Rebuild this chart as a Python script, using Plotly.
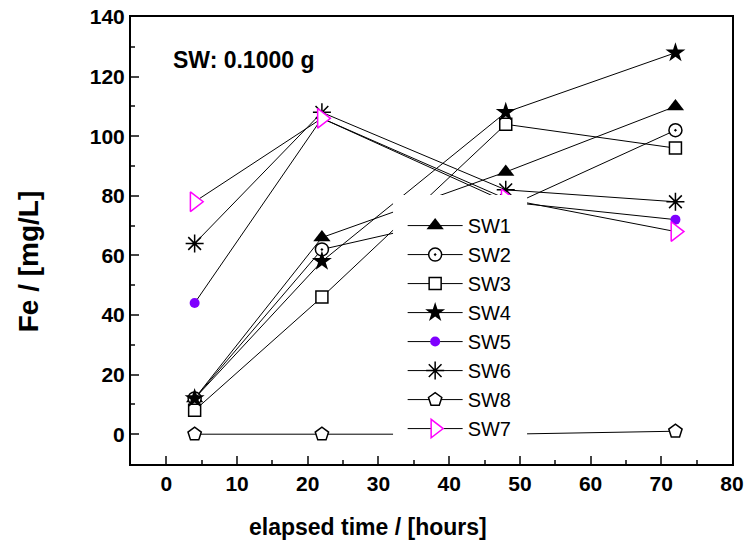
import plotly.graph_objects as go

hours = [4, 22, 48, 72]
sw1 = [12, 66, 88, 110]
sw2 = [12, 62, 76, 102]
sw3 = [8, 46, 104, 96]
sw4 = [12, 58, 108, 128]
sw5 = [44, 106, 78, 72]
sw6 = [64, 108, 82, 78]
sw8 = [0, 0, 0, 1]
sw7 = [78, 106, 79, 68]

# name, values, symbol, fill, size, outline
series = [
    ("SW1", sw1, "triangle-up", "black", 15, "black"),
    ("SW2", sw2, "circle-dot", "white", 13, "black"),
    ("SW3", sw3, "square", "white", 12, "black"),
    ("SW4", sw4, "star", "black", 15, "black"),
    ("SW5", sw5, "circle", "#7f00ff", 10, "#7f00ff"),
    ("SW6", sw6, "asterisk-open", "black", 15, "black"),
    ("SW8", sw8, "pentagon", "white", 14, "black"),
    ("SW7", sw7, "triangle-right", "white", 17, "#ff00ff"),
]

fig = go.Figure()
for name, ys, sym, col, size, lcol in series:
    outlined = col == "white" or "open" in sym
    fig.add_trace(go.Scatter(
        x=hours, y=ys, name=name, mode="lines+markers",
        line=dict(color="black", width=1),
        marker=dict(symbol=sym, size=size, color=col,
                    line=dict(color=lcol, width=1.5 if outlined else 0)),
    ))

font = "Liberation Sans, Arial, sans-serif"
fig.update_layout(
    width=744, height=548,
    margin=dict(l=131, r=12, t=17, b=84, autoexpand=False),
    plot_bgcolor="white", paper_bgcolor="white",
    font=dict(family=font, color="black"),
    showlegend=True,
    legend=dict(x=0.452, y=0.577, xanchor="left", yanchor="top",
                bgcolor="rgba(0,0,0,0)", borderwidth=0, itemwidth=55,
                font=dict(size=20, family=font, color="black")),
    xaxis=dict(range=[-5, 80], dtick=10, tick0=0, ticks="inside", ticklen=8,
               tickwidth=1.5, showline=True, linewidth=2, linecolor="black",
               mirror=True, showgrid=False, zeroline=False, automargin=False,
               minor=dict(ticks="inside", ticklen=4, dtick=5, tickwidth=1.5, showgrid=False),
               tickfont=dict(size=21, family=font, weight="bold")),
    yaxis=dict(range=[-10, 140], dtick=20, tick0=0, ticks="inside", ticklen=8,
               tickwidth=1.5, showline=True, linewidth=2, linecolor="black",
               mirror=True, showgrid=False, zeroline=False, automargin=False,
               minor=dict(ticks="inside", ticklen=4, dtick=10, tickwidth=1.5, showgrid=False),
               tickfont=dict(size=21, family=font, weight="bold")),
    shapes=[dict(type="rect", xref="paper", yref="paper", x0=0.436, x1=0.659,
                 y0=0.038, y1=0.602, fillcolor="white", line=dict(width=0), layer="above")],
    annotations=[
        dict(text="<b>SW: 0.1000 g</b>", x=0.066, y=0.904, xref="paper", yref="paper",
             xanchor="left", yanchor="middle", showarrow=False,
             font=dict(size=23, family=font, color="black")),
        dict(text="<b>elapsed time / [hours]</b>", x=0.394, y=-0.141, xref="paper", yref="paper",
             xanchor="center", yanchor="middle", showarrow=False,
             font=dict(size=23, family=font, color="black")),
        dict(text="<b>Fe / [mg/L]</b>", x=-0.171, y=0.454, xref="paper", yref="paper",
             xanchor="center", yanchor="middle", showarrow=False, textangle=-90,
             font=dict(size=28, family=font, color="black")),
    ],
)

fig.write_html("out.html")
